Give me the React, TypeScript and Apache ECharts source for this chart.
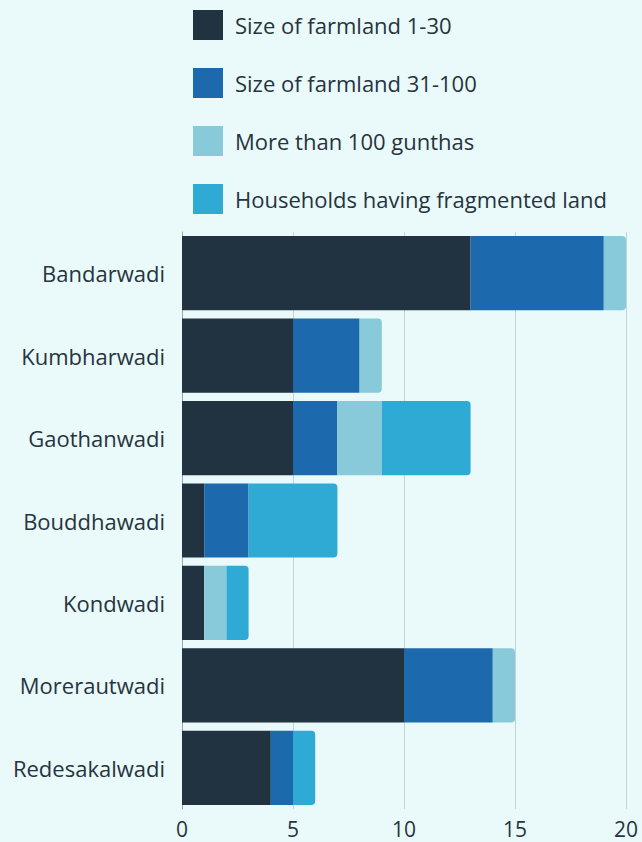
import React, { useEffect, useRef } from "react";
import * as echarts from "echarts";

const categories = ["Bandarwadi", "Kumbharwadi", "Gaothanwadi", "Bouddhawadi", "Kondwadi", "Morerautwadi", "Redesakalwadi"];
const seriesNames = ["Size of farmland 1-30", "Size of farmland 31-100", "More than 100 gunthas", "Households having fragmented land"];
const farm1to30 = [13, 5, 5, 1, 1, 10, 4];
const farm31to100 = [6, 3, 2, 2, 0, 4, 1];
const moreThan100 = [1, 1, 2, 0, 1, 1, 0];
const fragmented = [0, 0, 4, 4, 1, 0, 1];
const xTicks = [0, 5, 10, 15, 20];

const colors = ["#213240", "#1c6aad", "#88cad9", "#2eaad5"];
const FONT = "'Open Sans', Lato, sans-serif";
const TEXT = "#26343f";

export default function App() {
  const ref = useRef<HTMLDivElement>(null);
  useEffect(() => {
    if (!ref.current) return;
    const chart = echarts.init(ref.current, null, { renderer: "svg" });
    const all = [farm1to30, farm31to100, moreThan100, fragmented];
    const lastIdx = categories.map((_, ci) => {
      let last = 0;
      all.forEach((arr, si) => { if (arr[ci] > 0) last = si; });
      return last;
    });
    const series = all.map((arr, si) => ({
      name: seriesNames[si],
      type: "bar",
      stack: "total",
      barCategoryGap: "10%",
      itemStyle: { color: colors[si] },
      data: arr.map((v, ci) => ({
        value: v,
        itemStyle: { borderRadius: lastIdx[ci] === si ? [0, 4, 4, 0] : 0 },
      })),
    }));
    chart.setOption({
      animation: false,
      backgroundColor: "#eafafa",
      textStyle: { fontFamily: FONT },
      legend: {
        orient: "vertical",
        left: 188,
        top: 5,
        itemWidth: 30,
        itemHeight: 30,
        itemGap: 28,
        icon: "rect",
        data: seriesNames,
        textStyle: { fontSize: 22, color: TEXT, fontFamily: FONT, padding: [0, 0, 0, 7] },
      },
      grid: { left: 182, right: 16, top: 232, bottom: 33, containLabel: false },
      xAxis: {
        type: "value",
        min: 0,
        max: 20,
        interval: 5,
        axisLine: { show: false },
        axisTick: { show: false },
        splitLine: { show: true, lineStyle: { color: "#c5d3d6", width: 1 } },
        axisLabel: {
          fontSize: 21,
          color: TEXT,
          fontFamily: FONT,
          margin: 9,
          formatter: (v: number) => (xTicks.includes(v) ? String(v) : ""),
        },
      },
      yAxis: {
        type: "category",
        data: categories,
        inverse: true,
        axisLine: { show: true, lineStyle: { color: "#9aa8ad" } },
        axisTick: { show: false },
        axisLabel: { fontSize: 22, color: TEXT, fontFamily: FONT, margin: 17 },
      },
      series,
    });
    return () => chart.dispose();
  }, []);
  return <div ref={ref} style={{ width: 642, height: 842, position: "fixed", left: 0, top: 0 }} />;
}
